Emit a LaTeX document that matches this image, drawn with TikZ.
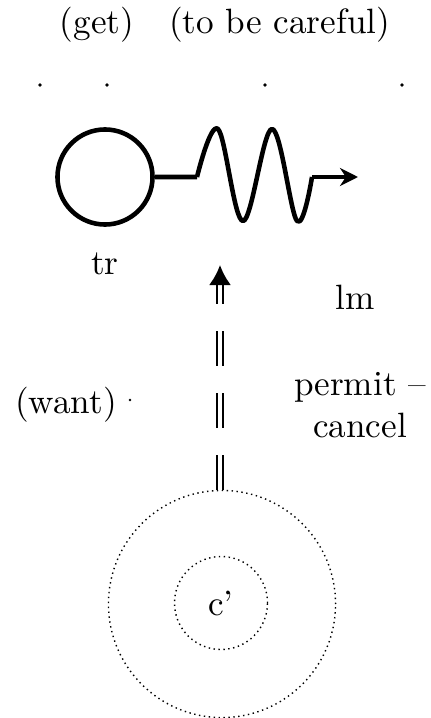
\documentclass[tikz,border=0pt]{standalone}
\usepackage{tikz}
\usetikzlibrary{arrows.meta,positioning}

\begin{document}
\begin{tikzpicture}[
  x=0.01cm,y=-0.01cm,
  font=\normalsize,
  lbl/.style={inner sep=1pt},
  ring/.style={draw,circle,densely dotted,thin,inner sep=0pt},
  wave/.style={line width=1.3pt,line join=round},
  force/.style={double,double distance=1pt,line width=0.7pt,
                dash pattern=on 0.35cm off 0.27cm,
                -{Latex[length=0.2cm,width=0.22cm,fill=black]}},
  speck/.style={fill=black,circle,inner sep=0pt,minimum size=1pt}
]
\useasboundingbox (0,0) rectangle (430,718);
\node[lbl] (title) at (225,25) {(get)\quad (to be careful)};
\foreach \px/\nm in {40/da,107/db,265/dc,402/dd}
  \node[speck] (\nm) at (\px,85) {};
\node[draw,circle,line width=1.3pt,minimum size=0.95cm,inner sep=0pt] (tr) at (105,177) {};
\node[lbl,below=0.22cm of tr] (trlab) {tr};
\coordinate (w0) at (197,177);
\coordinate (w5) at (312,177);
\coordinate (tip) at (358,177);
\draw[wave] (tr.east) -- (w0)
  plot[smooth,tension=0.6] coordinates {(197,177) (218,129) (243,221) (272,129) (297,221) (312,177)}
  -- (w5);
\draw[wave,-{Stealth[length=0.18cm,width=0.18cm]}] (w5) -- (tip);
\node[lbl] (lm) at (355,297) {lm};
\node[lbl] (want) at (66,405) {(want)};
\node[speck,minimum size=0.8pt] (wdot) at (130,400) {};
\node[lbl,align=center] (permit) at (360,405) {permit --\\cancel};
\node[ring,minimum size=2.27cm] (outer) at (222,604) {};
\node[ring,minimum size=0.93cm] (inner) at (221,603) {c'};
\coordinate (hit) at (220,265);
\draw[force] (outer.north -| hit) -- (hit);
\end{tikzpicture}
\end{document}
